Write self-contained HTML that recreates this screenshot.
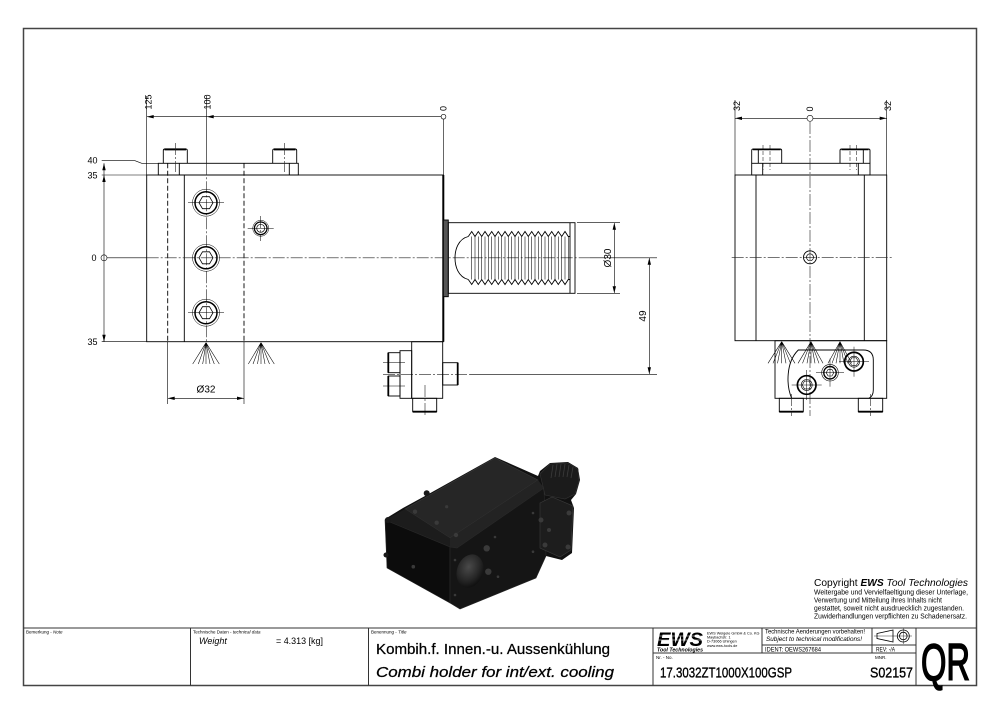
<!DOCTYPE html>
<html><head><meta charset="utf-8"><style>
html,body{margin:0;padding:0;background:#fff;}
svg{display:block;}
text{font-family:"Liberation Sans",sans-serif;fill:#000;}
</style></head><body>
<svg width="1000" height="715" viewBox="0 0 1000 715" xmlns="http://www.w3.org/2000/svg">
<rect x="0" y="0" width="1000" height="715" fill="#fff"/>
<!-- frame -->
<rect x="23.5" y="28.5" width="953" height="657" fill="none" stroke="#444" stroke-width="1.5"/>

<!-- ================= LEFT VIEW ================= -->
<g fill="none" stroke="#000" stroke-width="0.9">
  <rect x="146.7" y="175" width="296.6" height="166.7"/>
  <line x1="184.3" y1="175" x2="184.3" y2="341.7"/>
  <rect x="158.3" y="163.3" width="140" height="11.7"/>
  <line x1="179.3" y1="163.3" x2="179.3" y2="175"/>
  <line x1="289.3" y1="163.3" x2="289.3" y2="175"/>
  <path d="M163.3,163.3 V150.5 Q163.3,149 165,149 H185.6 Q187.3,149 187.3,150.5 V163.3"/>
  <path d="M272.7,163.3 V150.5 Q272.7,149 274.4,149 H295 Q296.7,149 296.7,150.5 V163.3"/>
</g>
<line x1="164.5" y1="149.4" x2="186" y2="149.4" stroke="#000" stroke-width="2"/>
<line x1="274" y1="149.4" x2="295.4" y2="149.4" stroke="#000" stroke-width="2"/>
<line x1="443.3" y1="175" x2="443.3" y2="341.7" stroke="#000" stroke-width="2"/>

<g stroke="#000" stroke-width="0.9" stroke-dasharray="5 2.5" fill="none">
  <line x1="167.7" y1="163.3" x2="167.7" y2="341.7"/>
  <line x1="244" y1="163.3" x2="244" y2="341.7"/>
</g>
<g stroke="#000" stroke-width="0.6" fill="none">
  <line x1="167.7" y1="341.7" x2="167.7" y2="404"/>
  <line x1="244" y1="341.7" x2="244" y2="404"/>
  <line x1="146.7" y1="96" x2="146.7" y2="175"/>
  <line x1="206.7" y1="96" x2="206.7" y2="163.3"/>
  <line x1="443.5" y1="119" x2="443.5" y2="175"/>
  <line x1="146.7" y1="116.7" x2="441" y2="116.7"/>
  <path d="M101.7,160.7 H135 L141.7,163.3 H158.3"/>
  <line x1="101.7" y1="175" x2="146.7" y2="175"/>
  <line x1="101.7" y1="341.7" x2="146.7" y2="341.7"/>
  <line x1="104" y1="163.3" x2="104" y2="341.7"/>
  <line x1="107" y1="257.8" x2="146.7" y2="257.8"/>
  <line x1="167.7" y1="398.3" x2="244" y2="398.3"/>
  <line x1="577" y1="222.7" x2="620" y2="222.7"/>
  <line x1="577" y1="293.3" x2="620" y2="293.3"/>
  <line x1="614.3" y1="222.7" x2="614.3" y2="293.3"/>
  <line x1="590" y1="257.8" x2="657" y2="257.8"/>
  <line x1="470" y1="374.3" x2="657" y2="374.3"/>
  <line x1="649.3" y1="257.8" x2="649.3" y2="374.3"/>
</g>
<circle cx="443.5" cy="116.7" r="2.4" fill="none" stroke="#000" stroke-width="0.6"/>
<circle cx="104" cy="257.8" r="3" fill="none" stroke="#000" stroke-width="0.6"/>
<g stroke="#222" stroke-width="0.6" stroke-dasharray="12 2 2 2" fill="none">
  <line x1="146.7" y1="257.8" x2="590" y2="257.8"/>
  <line x1="206.7" y1="163.3" x2="206.7" y2="345"/>
  <line x1="175.3" y1="143" x2="175.3" y2="172"/>
  <line x1="284.7" y1="143" x2="284.7" y2="172"/>
  <line x1="383" y1="374.3" x2="470" y2="374.3"/>
  <line x1="425" y1="385" x2="425" y2="416"/>
  <line x1="260.7" y1="216" x2="260.7" y2="241"/>
</g>
<g fill="#000">
  <polygon points="146.7,116.7 153.7,115 153.7,118.4"/>
  <polygon points="206.7,116.7 213.7,115 213.7,118.4"/>
  <polygon points="104,163.3 102.3,170.3 105.7,170.3"/>
  <polygon points="104,175 102.3,182 105.7,182"/>
  <polygon points="104,341.7 102.3,334.7 105.7,334.7"/>
  <polygon points="167.7,398.3 174.7,396.6 174.7,400"/>
  <polygon points="244,398.3 237,396.6 237,400"/>
  <polygon points="614.3,222.7 612.6,229.7 616,229.7"/>
  <polygon points="614.3,293.3 612.6,286.3 616,286.3"/>
  <polygon points="649.3,257.8 647.6,264.8 651,264.8"/>
  <polygon points="649.3,374.3 647.6,367.3 651,367.3"/>
</g>
<g font-size="9">
  <text transform="translate(151.5,102) rotate(-90)" text-anchor="middle">125</text>
  <text transform="translate(210.5,102) rotate(-90)" text-anchor="middle">100</text>
  <text transform="translate(446.5,108.5) rotate(-90)" text-anchor="middle">0</text>
  <text x="92.5" y="163.7" text-anchor="middle">40</text>
  <text x="92.5" y="178.7" text-anchor="middle">35</text>
  <text x="94" y="261" text-anchor="middle">0</text>
  <text x="92.5" y="345" text-anchor="middle">35</text>
</g>
<text x="206" y="392.6" font-size="10" text-anchor="middle">Ø32</text>
<text transform="translate(611,258) rotate(-90)" font-size="10" text-anchor="middle">Ø30</text>
<text transform="translate(646,316) rotate(-90)" font-size="10" text-anchor="middle">49</text>

<g fill="none" stroke="#000">
  <g transform="translate(206,202.7)">
    <circle r="13.5" stroke-width="0.5"/><circle r="11" stroke-width="1.5"/>
    <polygon points="-7,0 -3.5,-6 3.5,-6 7,0 3.5,6 -3.5,6" stroke-width="0.8"/>
    <line x1="-18" y1="0" x2="18" y2="0" stroke-width="0.5"/>
  </g>
  <g transform="translate(206,257.8)">
    <circle r="13.5" stroke-width="0.5"/><circle r="11" stroke-width="1.5"/>
    <polygon points="-7,0 -3.5,-6 3.5,-6 7,0 3.5,6 -3.5,6" stroke-width="0.8"/>
  </g>
  <g transform="translate(206,312.7)">
    <circle r="13.5" stroke-width="0.5"/><circle r="11" stroke-width="1.5"/>
    <polygon points="-7,0 -3.5,-6 3.5,-6 7,0 3.5,6 -3.5,6" stroke-width="0.8"/>
    <line x1="-18" y1="0" x2="18" y2="0" stroke-width="0.5"/>
  </g>
  <g transform="translate(260.7,228.3)">
    <circle r="8" stroke-width="0.5"/><circle r="6.3" stroke-width="1.3"/><circle r="4" stroke-width="0.7"/>
    <line x1="-13" y1="0" x2="13" y2="0" stroke-width="0.5"/>
  </g>
</g>
<g stroke="#000" stroke-width="0.55">
  <path d="M206,342.7 L192.7,364 M206,342.7 L198.3,364 M206,342.7 L202.7,364 M206,342.7 L206,364 M206,342.7 L210,364 M206,342.7 L214.3,364 M206,342.7 L219.3,364"/>
  <path d="M261,342.7 L248.3,364 M261,342.7 L253,364 M261,342.7 L257.5,364 M261,342.7 L261,364 M261,342.7 L265,364 M261,342.7 L269.5,364 M261,342.7 L274.3,364"/>
</g>
<g fill="none" stroke="#000" stroke-width="0.9">
  <rect x="411.7" y="341.7" width="31" height="56.6"/>
  <rect x="400" y="350.7" width="11.7" height="47.6"/>
  <rect x="388.3" y="352.7" width="11.7" height="20"/>
  <rect x="388.3" y="376" width="11.7" height="20"/>
  <rect x="442.7" y="362.7" width="15" height="22.3"/>
  <rect x="412.7" y="398.3" width="24" height="13.4"/>
</g>
<g stroke="#000" stroke-width="1.8">
  <line x1="388.3" y1="352.7" x2="388.3" y2="372.7"/>
  <line x1="388.3" y1="376" x2="388.3" y2="396"/>
  <line x1="457.7" y1="362.7" x2="457.7" y2="385"/>
  <line x1="412.7" y1="411.7" x2="436.7" y2="411.7"/>
</g>
<g stroke="#000" stroke-width="0.5">
  <line x1="383" y1="362.7" x2="405" y2="362.7"/>
  <line x1="383" y1="386" x2="405" y2="386"/>
</g>
<rect x="443.3" y="220" width="5" height="76.7" fill="#555" stroke="#000" stroke-width="0.9"/>
<g fill="none" stroke="#000" stroke-width="0.9">
  <rect x="448.3" y="222.7" width="126.7" height="70.6"/>
  <line x1="570" y1="222.7" x2="570" y2="293.3"/>
  <path d="M468.3,236.5 C458,239 455,250 455,258 C455,266 458,277 468.3,279.5"/>
  <path d="M468.3,236.5 L471.7,231.5 L475,236.5 L478.3,231.5 L481.7,236.5 L485,231.5 L488.3,236.5 L491.7,231.5 L495,236.5 L498.3,231.5 L501.7,236.5 L505,231.5 L508.3,236.5 L511.7,231.5 L515,236.5 L518.3,231.5 L521.7,236.5 L525,231.5 L528.3,236.5 L531.7,231.5 L535,236.5 L538.3,231.5 L541.7,236.5 L545,231.5 L548.3,236.5 L551.7,231.5 L555,236.5 L558.3,231.5 L561.7,236.5 L565,231.5 L568.3,236.5 L570,236.5"/>
  <path d="M468.3,279.5 L471.7,284.5 L475,279.5 L478.3,284.5 L481.7,279.5 L485,284.5 L488.3,279.5 L491.7,284.5 L495,279.5 L498.3,284.5 L501.7,279.5 L505,284.5 L508.3,279.5 L511.7,284.5 L515,279.5 L518.3,284.5 L521.7,279.5 L525,284.5 L528.3,279.5 L531.7,284.5 L535,279.5 L538.3,284.5 L541.7,279.5 L545,284.5 L548.3,279.5 L551.7,284.5 L555,279.5 L558.3,284.5 L561.7,279.5 L565,284.5 L568.3,279.5 L570,279.5"/>
</g>
<path stroke="#000" stroke-width="0.55" fill="none" d="M471.7,236.5V279.5 M475,236.5V279.5 M478.3,236.5V279.5 M481.7,236.5V279.5 M485,236.5V279.5 M488.3,236.5V279.5 M491.7,236.5V279.5 M495,236.5V279.5 M498.3,236.5V279.5 M501.7,236.5V279.5 M505,236.5V279.5 M508.3,236.5V279.5 M511.7,236.5V279.5 M515,236.5V279.5 M518.3,236.5V279.5 M521.7,236.5V279.5 M525,236.5V279.5 M528.3,236.5V279.5 M531.7,236.5V279.5 M535,236.5V279.5 M538.3,236.5V279.5 M541.7,236.5V279.5 M545,236.5V279.5 M548.3,236.5V279.5 M551.7,236.5V279.5 M555,236.5V279.5 M558.3,236.5V279.5 M561.7,236.5V279.5 M565,236.5V279.5 M568.3,236.5V279.5"/>

<!-- ================= RIGHT VIEW ================= -->
<g fill="none" stroke="#000" stroke-width="0.9">
  <rect x="735" y="175" width="151.7" height="165.7"/>
  <line x1="756" y1="175" x2="756" y2="340.7"/>
  <line x1="864.3" y1="175" x2="864.3" y2="340.7"/>
  <rect x="751.7" y="163.3" width="118.3" height="11.7"/>
  <line x1="762.7" y1="163.3" x2="762.7" y2="175"/>
  <line x1="858.3" y1="163.3" x2="858.3" y2="175"/>
  <path d="M751.7,163.3 V150.5 Q751.7,149 753.4,149 H780 Q781.7,149 781.7,150.5 V163.3"/>
  <line x1="758.3" y1="149" x2="758.3" y2="163.3"/>
  <path d="M840,163.3 V150.5 Q840,149 841.7,149 H868.3 Q870,149 870,150.5 V163.3"/>
  <line x1="863.3" y1="149" x2="863.3" y2="163.3"/>
  <rect x="775" y="340.7" width="111.7" height="57.6"/>
  <path d="M791.7,398.3 C786,385 786,362 798.3,350 L863.3,350 Q873.3,350 873.3,360 L873.3,390 Q873.3,396 869,398.3"/>
  <rect x="779.3" y="398.3" width="24" height="13.4"/>
  <rect x="858.3" y="398.3" width="24.4" height="13.4"/>
</g>
<g stroke="#000" stroke-width="1.8">
  <line x1="753" y1="149.4" x2="780.5" y2="149.4"/>
  <line x1="841.5" y1="149.4" x2="868.5" y2="149.4"/>
  <line x1="779.3" y1="411.7" x2="803.3" y2="411.7"/>
  <line x1="858.3" y1="411.7" x2="882.7" y2="411.7"/>
</g>
<g stroke="#000" stroke-width="0.6" fill="none">
  <line x1="735" y1="100" x2="735" y2="175"/>
  <line x1="886.7" y1="100" x2="886.7" y2="175"/>
  <line x1="735" y1="118.3" x2="807" y2="118.3"/>
  <line x1="813" y1="118.3" x2="886.7" y2="118.3"/>
</g>
<circle cx="810" cy="118.3" r="3" fill="none" stroke="#000" stroke-width="0.6"/>
<g fill="#000">
  <polygon points="735,118.3 742,116.6 742,120"/>
  <polygon points="886.7,118.3 879.7,116.6 879.7,120"/>
</g>
<g stroke="#222" stroke-width="0.6" stroke-dasharray="12 2 2 2" fill="none">
  <line x1="810" y1="122" x2="810" y2="416"/>
  <line x1="731.7" y1="257.3" x2="891.7" y2="257.3"/>
  <line x1="791.5" y1="394" x2="791.5" y2="416"/>
  <line x1="870.5" y1="394" x2="870.5" y2="416"/>
</g>
<g stroke="#000" stroke-width="0.5" stroke-dasharray="4 2">
  <line x1="763" y1="145" x2="763" y2="170"/>
  <line x1="770" y1="145" x2="770" y2="170"/>
  <line x1="850" y1="145" x2="850" y2="170"/>
  <line x1="856.7" y1="145" x2="856.7" y2="170"/>
</g>
<g font-size="9">
  <text transform="translate(740,106) rotate(-90)" text-anchor="middle">32</text>
  <text transform="translate(813,109) rotate(-90)" text-anchor="middle">0</text>
  <text transform="translate(891,106) rotate(-90)" text-anchor="middle">32</text>
</g>
<g fill="none" stroke="#000">
  <circle cx="810" cy="257.3" r="6.5" stroke-width="0.9"/>
  <circle cx="810" cy="257.3" r="3.5" stroke-width="0.7"/>
  <g transform="translate(806.7,385)">
    <circle r="9.3" stroke-width="1.7"/><circle r="5.5" stroke-width="0.6"/>
    <polygon points="-4.5,0 -2.2,-3.9 2.2,-3.9 4.5,0 2.2,3.9 -2.2,3.9" stroke-width="0.6"/>
    <line x1="-15" y1="0" x2="15" y2="0" stroke-width="0.5"/><line x1="0" y1="-15" x2="0" y2="15" stroke-width="0.5"/>
  </g>
  <g transform="translate(830,372.7)">
    <circle r="8.3" stroke-width="0.6"/><circle r="6.2" stroke-width="1.4"/>
    <polygon points="-3.8,0 -1.9,-3.3 1.9,-3.3 3.8,0 1.9,3.3 -1.9,3.3" stroke-width="0.6"/>
    <line x1="-14" y1="0" x2="14" y2="0" stroke-width="0.5"/><line x1="0" y1="-14" x2="0" y2="14" stroke-width="0.5"/>
  </g>
  <g transform="translate(854,361.7)">
    <circle r="9.3" stroke-width="1.7"/><circle r="5.5" stroke-width="0.6"/>
    <polygon points="-4.5,0 -2.2,-3.9 2.2,-3.9 4.5,0 2.2,3.9 -2.2,3.9" stroke-width="0.6"/>
    <line x1="-15" y1="0" x2="15" y2="0" stroke-width="0.5"/><line x1="0" y1="-15" x2="0" y2="15" stroke-width="0.5"/>
  </g>
</g>
<g stroke="#000" stroke-width="0.55">
  <path d="M781.7,341.7 L768,363.3 M781.7,341.7 L773,363.3 M781.7,341.7 L777.5,363.3 M781.7,341.7 L781.7,363.3 M781.7,341.7 L786,363.3 M781.7,341.7 L790.5,363.3 M781.7,341.7 L795,363.3"/>
  <path d="M811,341.7 L798,363.3 M811,341.7 L802.5,363.3 M811,341.7 L807,363.3 M811,341.7 L811,363.3 M811,341.7 L815,363.3 M811,341.7 L819,363.3 M811,341.7 L823,363.3"/>
  <path d="M840,341.7 L828,363.3 M840,341.7 L832,363.3 M840,341.7 L836,363.3 M840,341.7 L840,363.3 M840,341.7 L844,363.3 M840,341.7 L848,363.3 M840,341.7 L851.7,363.3"/>
</g>

<!-- ================= 3D RENDER ================= -->
<defs>
  <radialGradient id="bore" cx="0.4" cy="0.4" r="0.7">
    <stop offset="0" stop-color="#4a4a4a"/>
    <stop offset="0.6" stop-color="#262626"/>
    <stop offset="1" stop-color="#0a0a0a"/>
  </radialGradient>
</defs>
<polygon points="385,519 403,508 425,496 495,457 538,476 540,471 550,463 568,462 578,468 580,480 576,494 571,500 574,508 572,553 562,560 546,556 536,578 460,609 450,603 387,568" fill="#111"/>
<polygon points="405,509 495,458 538,480 450,538" fill="#262626" stroke="#3a3a3a" stroke-width="0.6"/>
<polygon points="385,520 405,509 450,538 450,547" fill="#1c1c1c"/>
<polygon points="385,520 450,547 450,603 387,568" fill="#0c0c0c" stroke="#2a2a2a" stroke-width="0.6"/>
<polygon points="450,538 538,480 544,488 457,548 450,547" fill="#232323"/>
<polygon points="457,548 544,488 546,556 536,578 460,609 450,603 450,547" fill="#151515" stroke="#2a2a2a" stroke-width="0.6"/>
<ellipse cx="470" cy="571" rx="13" ry="17" transform="rotate(20 470 571)" fill="url(#bore)"/>
<polygon points="540,474 550,464 568,463 578,469 579,481 575,494 565,499 545,495" fill="#1b1b1b" stroke="#333" stroke-width="0.6"/>
<g stroke="#3c3c3c" stroke-width="0.8">
  <line x1="553" y1="465" x2="551" y2="478"/><line x1="557" y1="464" x2="555" y2="477"/>
  <line x1="561" y1="464" x2="559" y2="477"/><line x1="565" y1="464" x2="563" y2="477"/>
  <line x1="569" y1="465" x2="567" y2="477"/><line x1="573" y1="467" x2="571" y2="478"/>
</g>
<polygon points="540,503 552,497 573,506 571,550 560,557 540,548" fill="#1d1d1d" stroke="#3a3a3a" stroke-width="0.6"/>
<g fill="#3a3a3a">
  <circle cx="415" cy="511.7" r="2.2"/><circle cx="446.7" cy="506.7" r="1.6"/>
  <circle cx="436.7" cy="522.7" r="2.2"/><circle cx="456" cy="535" r="2.2"/>
  <circle cx="413.3" cy="566.7" r="1.8"/><circle cx="486.7" cy="548.3" r="3.2"/>
  <circle cx="488.3" cy="571.7" r="3.2"/><circle cx="495" cy="537" r="1.3"/>
  <circle cx="533" cy="513" r="1.3"/><circle cx="533" cy="551.7" r="1.3"/>
  <circle cx="498" cy="576.7" r="1.3"/><circle cx="455" cy="560" r="1.3"/>
  <circle cx="455" cy="595" r="1.3"/>
  <circle cx="541" cy="520" r="2.5"/><circle cx="549" cy="530" r="2"/>
  <circle cx="545" cy="545" r="2.5"/><circle cx="569" cy="513" r="2.5"/>
  <circle cx="568" cy="547" r="2.5"/>
</g>
<g fill="#1a1a1a">
  <circle cx="426.7" cy="493.3" r="3"/><circle cx="388" cy="520" r="3"/><circle cx="386" cy="555" r="2.5"/>
</g>

<!-- ================= COPYRIGHT ================= -->
<text x="814" y="586" font-size="10.5" textLength="154" lengthAdjust="spacingAndGlyphs">Copyright <tspan font-weight="bold" font-style="italic">EWS</tspan> <tspan font-style="italic">Tool Technologies</tspan></text>
<g font-size="7">
  <text x="814" y="594.5" textLength="154" lengthAdjust="spacingAndGlyphs">Weitergabe und Vervielfaeltigung dieser Unterlage,</text>
  <text x="814" y="602.5" textLength="128" lengthAdjust="spacingAndGlyphs">Verwertung und Mitteilung ihres Inhalts nicht</text>
  <text x="814" y="610.5" textLength="150" lengthAdjust="spacingAndGlyphs">gestattet, soweit nicht ausdruecklich zugestanden.</text>
  <text x="814" y="618.5" textLength="153" lengthAdjust="spacingAndGlyphs">Zuwiderhandlungen verpflichten zu Schadenersatz.</text>
</g>

<!-- ================= TITLE BLOCK ================= -->
<g stroke="#333" stroke-width="1" fill="none">
  <line x1="23.5" y1="628" x2="976.5" y2="628"/>
  <line x1="190.5" y1="628" x2="190.5" y2="685.5"/>
  <line x1="368.5" y1="628" x2="368.5" y2="685.5"/>
  <line x1="653" y1="628" x2="653" y2="685.5"/>
  <line x1="762" y1="628" x2="762" y2="653"/>
  <line x1="872" y1="628" x2="872" y2="653"/>
  <line x1="916" y1="628" x2="916" y2="685.5"/>
  <line x1="653" y1="653" x2="916" y2="653"/>
  <line x1="762" y1="645" x2="916" y2="645"/>
</g>
<g font-size="4.5">
  <text x="26" y="633.5">Bemerkung - <tspan font-style="italic">Note</tspan></text>
  <text x="193" y="633.5">Technische Daten - <tspan font-style="italic">technical data</tspan></text>
  <text x="371" y="633.5">Benennung - <tspan font-style="italic">Title</tspan></text>
  <text x="656" y="659">Nr. - No.</text>
  <text x="875" y="659">MNR.</text>
</g>
<text x="199" y="644" font-size="9" font-style="italic">Weight</text>
<text x="276" y="644" font-size="9" textLength="47" lengthAdjust="spacingAndGlyphs">=  4.313 [kg]</text>
<text x="376" y="654" font-size="15" stroke="#000" stroke-width="0.25" textLength="234" lengthAdjust="spacingAndGlyphs">Kombih.f. Innen.-u. Aussenkühlung</text>
<text x="376" y="677" font-size="15" font-style="italic" stroke="#000" stroke-width="0.25" textLength="238" lengthAdjust="spacingAndGlyphs">Combi holder for int/ext. cooling</text>

<text x="657" y="646" font-size="19" font-weight="bold" font-style="italic" textLength="46" lengthAdjust="spacingAndGlyphs">EWS</text>
<g stroke="#fff" stroke-width="0.6">
  <line x1="655" y1="636" x2="706" y2="636"/>
  <line x1="655" y1="640" x2="706" y2="640"/>
</g>
<text x="657" y="651.5" font-size="5.5" font-weight="bold" font-style="italic" textLength="46" lengthAdjust="spacingAndGlyphs">Tool Technologies</text>
<g font-size="3.8">
  <text x="707" y="634.5">EWS Weigele GmbH &amp; Co. KG</text>
  <text x="707" y="638.5">Maybachstr. 1</text>
  <text x="707" y="642.5">D-73066 Uhingen</text>
  <text x="707" y="647">www.ews-tools.de</text>
</g>
<text x="765" y="633.5" font-size="6.5" textLength="100" lengthAdjust="spacingAndGlyphs">Technische Aenderungen vorbehalten!</text>
<text x="766" y="641" font-size="6.5" font-style="italic" textLength="96" lengthAdjust="spacingAndGlyphs">Subject to technical modifications!</text>
<text x="765" y="651.5" font-size="6" textLength="56" lengthAdjust="spacingAndGlyphs">IDENT:  OEWS267684</text>
<text x="876" y="651.5" font-size="6" textLength="19" lengthAdjust="spacingAndGlyphs">REV:  -/A</text>
<g fill="none" stroke="#000" stroke-width="0.8">
  <path d="M877,633.5 L893,630 L893,642 L877,638.5 Z"/>
  <circle cx="903.3" cy="636" r="6"/>
  <circle cx="903.3" cy="636" r="3.8"/>
</g>
<g stroke="#000" stroke-width="0.4">
  <line x1="874" y1="636" x2="912" y2="636"/>
  <line x1="903.3" y1="628.5" x2="903.3" y2="644"/>
</g>
<text x="660" y="677.5" font-size="15" stroke="#000" stroke-width="0.35" textLength="132" lengthAdjust="spacingAndGlyphs">17.3032ZT1000X100GSP</text>
<text x="870" y="677.5" font-size="15" stroke="#000" stroke-width="0.35" textLength="43" lengthAdjust="spacingAndGlyphs">S02157</text>
<text x="921" y="680" font-size="52" stroke="#000" stroke-width="1.6" textLength="49" lengthAdjust="spacingAndGlyphs">QR</text>
</svg>
</body></html>
